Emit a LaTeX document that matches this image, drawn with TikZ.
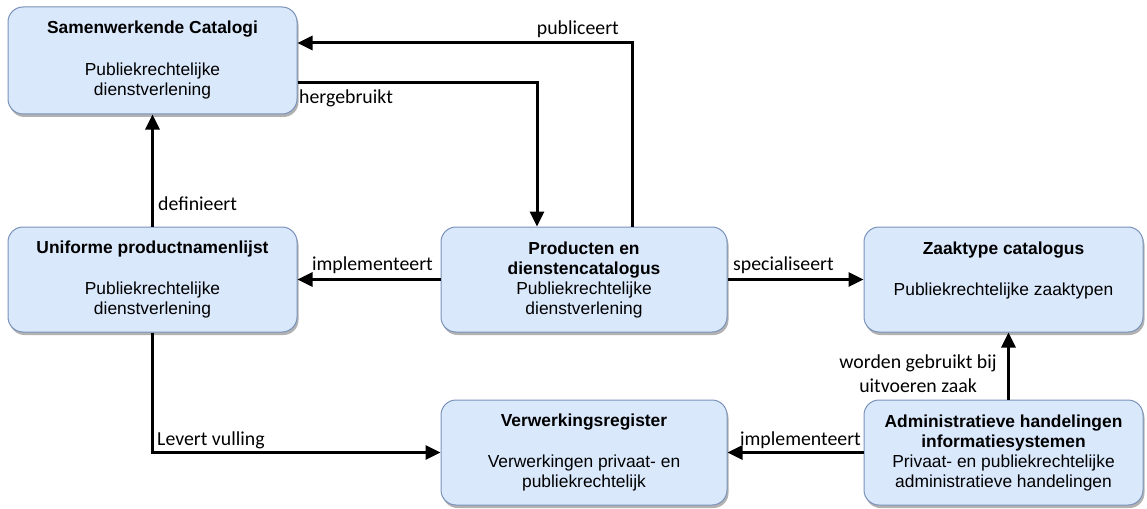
\documentclass[tikz,border=0pt]{standalone}
\usepackage{fontspec}
\newfontfamily\boxfont{Liberation Sans}
\newfontfamily\lblfont{Carlito}
\usetikzlibrary{arrows.meta,shadows}
\definecolor{boxfill}{RGB}{218,232,252}
\definecolor{boxline}{RGB}{122,146,186}
\begin{document}
\begin{tikzpicture}[x=1pt,y=-1pt,
  box/.style={rectangle, rounded corners=15pt, fill=boxfill, draw=boxline, line width=1pt,
    minimum width=#1, minimum height=105pt, inner sep=0pt, align=center,
    font=\boxfont\fontsize{17.4}{20}\selectfont,
    drop shadow={shadow xshift=1.5pt, shadow yshift=-3pt, opacity=0.3, fill=black}},
  arr/.style={line width=3pt, -{Triangle[length=15pt,width=14pt]}},
  lbl/.style={font=\lblfont\fontsize{19.8}{25}\selectfont, inner sep=0pt}]
\useasboundingbox (0,0) rectangle (1147,508);

\node[box=289pt, minimum height=107pt] (sam) at (152.5,60.5)
  {\textbf{Samenwerkende Catalogi}\\[22pt]Publiekrechtelijke\\dienstverlening};
\node[box=289pt] (upl) at (152.5,279.5)
  {\textbf{Uniforme productnamenlijst}\\[21pt]Publiekrechtelijke\\dienstverlening};
\node[box=286pt] (pdc) at (584,279.5)
  {\textbf{Producten en}\\\textbf{dienstencatalogus}\\Publiekrechtelijke\\dienstverlening};
\node[box=279pt] (ztc) at (1003.5,279.5)
  {\textbf{Zaaktype catalogus}\\[21pt]Publiekrechtelijke zaaktypen\\[2pt]\mbox{}};
\node[box=286pt] (vwr) at (584,452.5)
  {\textbf{Verwerkingsregister}\\[21pt]Verwerkingen privaat- en\\publiekrechtelijk};
\node[box=279pt] (ahi) at (1003.5,452.5)
  {\textbf{Administratieve handelingen}\\\textbf{informatiesystemen}\\Privaat- en publiekrechtelijke\\administratieve handelingen};

\draw[arr] (upl.north) -- (sam.south);
\draw[arr] ([yshift=-22.5pt]sam.east) -| ([xshift=-47pt]pdc.north);
\draw[arr] ([xshift=48pt]pdc.north) |- ([yshift=17.5pt]sam.east);
\draw[arr] (pdc.west) -- (upl.east);
\draw[arr] (pdc.east) -- (ztc.west);
\draw[arr] (upl.south) |- (vwr.west);
\draw[arr] (ahi.west) -- (vwr.east);
\draw[arr] ([xshift=5pt]ahi.north) -- ([xshift=5pt]ztc.south);

\node[lbl, anchor=base east] (lpub) at (619,35) {publiceert};
\node[lbl, anchor=base west] (lher) at (299,104) {hergebruikt};
\node[lbl, anchor=base west] (ldef) at (158,210) {definieert};
\node[lbl, anchor=base east] (limp1) at (433,270) {implementeert};
\node[lbl, anchor=base west] (lspec) at (733,270) {specialiseert};
\node[lbl, anchor=base west] (llev) at (157,445) {Levert vulling};
\node[lbl, anchor=base east] (limp2) at (861,445) {implementeert};
\node[lbl, anchor=base] (lw1) at (918,368) {worden gebruikt bij};
\node[lbl, anchor=base] (lw2) at (918,392) {uitvoeren zaak};
\end{tikzpicture}
\end{document}
